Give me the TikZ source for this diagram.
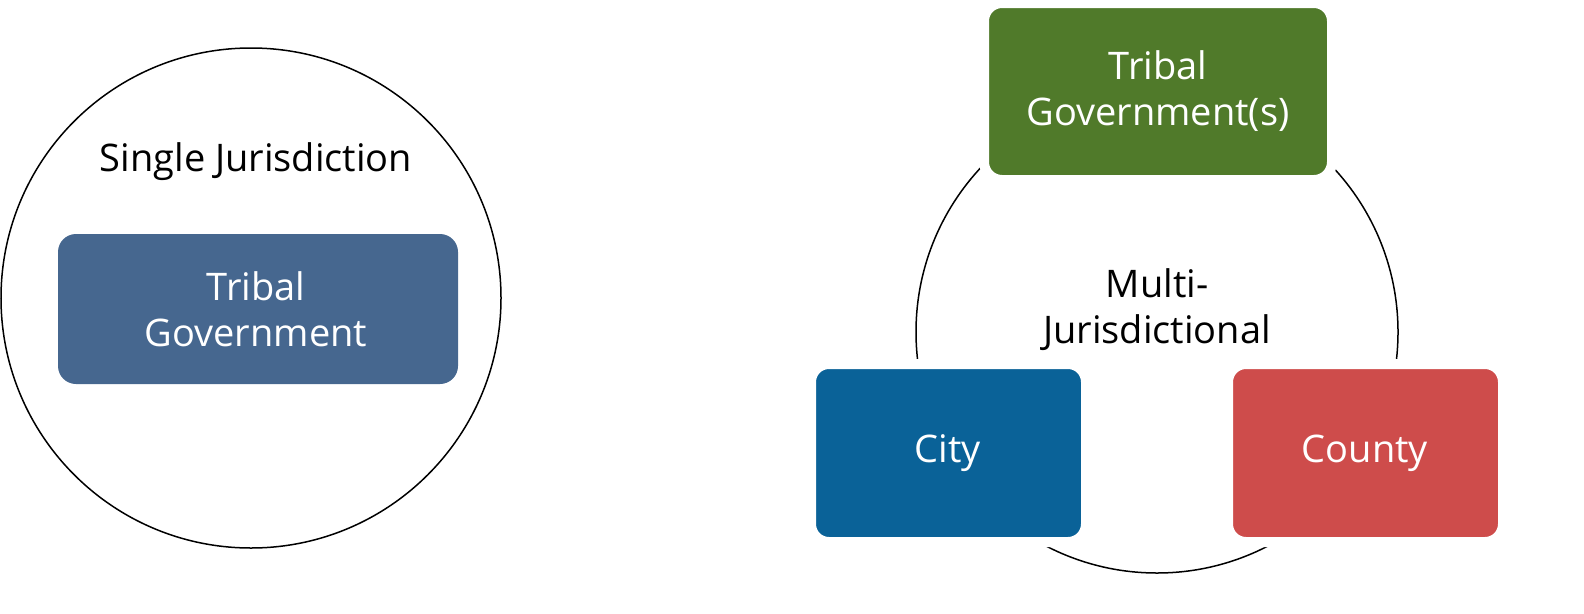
\documentclass[tikz,border=0pt]{standalone}
\usepackage{fontspec}
\setmainfont{Open Sans}
\begin{document}
\begin{tikzpicture}[x=1pt,y=-1pt,
  box/.style={rounded corners=18pt,draw=white,line width=10pt,text=white,align=center,font=\fontsize{38}{46}\selectfont,inner sep=0pt},
  lbl/.style={align=center,font=\fontsize{38}{46}\selectfont}]
\useasboundingbox (0,0) rectangle (1584,613);
\draw[line width=1.5pt] (251,298) circle (250);
\node[lbl] (single) at (256,162) {Single Jurisdiction};
\fill[fill={rgb,255:red,70;green,103;blue,143},rounded corners=18pt] (58,234) rectangle (458,384);
\node[lbl,text=white] (tg) at (256,309) {Tribal\\Government};
\draw[line width=1.5pt] (1157,332) circle (241);
\node[lbl] (multi) at (1157,310) {Multi-\\Jurisdictional};
\filldraw[box,fill={rgb,255:red,80;green,122;blue,42}] (984,3) rectangle (1332,180);
\node[lbl,text=white] (tgs) at (1158,91) {Tribal\\Government(s)};
\filldraw[box,fill={rgb,255:red,10;green,98;blue,152}] (811,364) rectangle (1086,542);
\node[lbl,text=white] (city) at (948,453) {City};
\filldraw[box,fill={rgb,255:red,206;green,76;blue,75}] (1228,364) rectangle (1503,542);
\node[lbl,text=white] (county) at (1365,453) {County};
\end{tikzpicture}
\end{document}
